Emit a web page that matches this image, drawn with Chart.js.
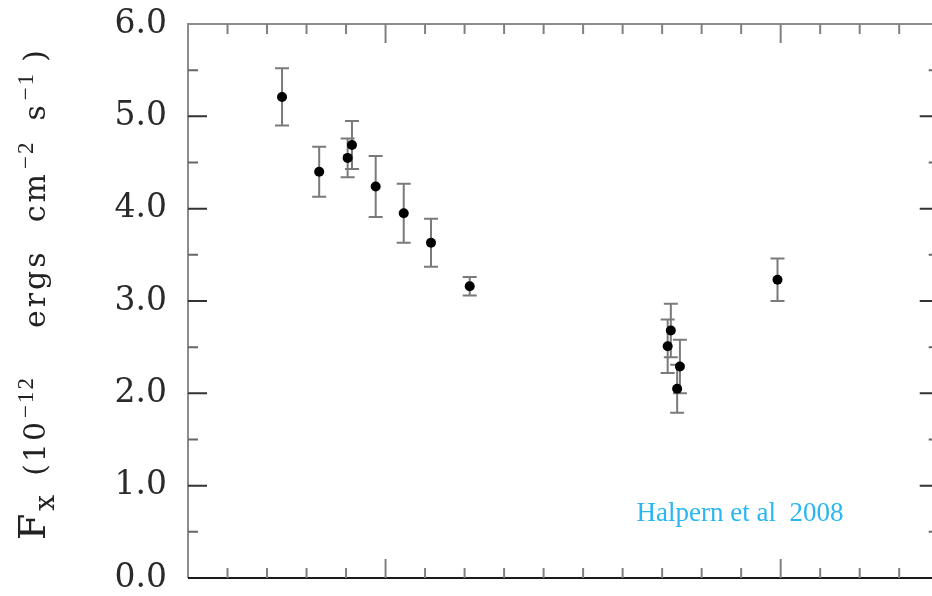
<!DOCTYPE html>
<html>
<head>
<meta charset="utf-8">
<script src="https://cdn.jsdelivr.net/npm/chart.js@4.4.1/dist/chart.umd.min.js"></script>
<style>
  html, body { margin: 0; padding: 0; background: #fff; }
  #wrap { width: 932px; height: 596px; }
</style>
</head>
<body>
<div id="wrap"><canvas id="fluxchart" width="932" height="596"></canvas></div>
<script>
// epochs (MJD), X-ray flux and 1-sigma errors
const epochs = [52738, 52832, 52904, 52915, 52975, 53046, 53115, 53213, 53714, 53722, 53745, 53738, 53992];
const fluxes = [5.21, 4.40, 4.55, 4.69, 4.24, 3.95, 3.63, 3.16, 2.51, 2.68, 2.29, 2.05, 3.23];
const errors = [0.31, 0.27, 0.21, 0.26, 0.33, 0.32, 0.26, 0.10, 0.29, 0.29, 0.29, 0.26, 0.23];

const yTicks = [0, 1, 2, 3, 4, 5, 6];
const yMinorStep = 0.5;
const xFrame = [52500, 54400];   // frame runs a little past the right edge of the picture
const xVisibleMax = 54383;
const xMinorStep = 100;
const xMajorStep = 1000;
const note = 'Halpern et al  2008';
const notePos = [53635, 0.62];

// error bars, drawn under the points
const errorBars = {
  id: 'errorBars',
  beforeDatasetsDraw(chart) {
    const {ctx, scales: {x, y}} = chart;
    ctx.save();
    ctx.strokeStyle = '#7a7a7a';
    ctx.lineWidth = 2;
    epochs.forEach((t, i) => {
      const px = x.getPixelForValue(t);
      const hi = y.getPixelForValue(fluxes[i] + errors[i]);
      const lo = y.getPixelForValue(fluxes[i] - errors[i]);
      ctx.beginPath();
      ctx.moveTo(px, hi); ctx.lineTo(px, lo);
      ctx.moveTo(px - 7, hi); ctx.lineTo(px + 7, hi);
      ctx.moveTo(px - 7, lo); ctx.lineTo(px + 7, lo);
      ctx.stroke();
    });
    ctx.restore();
  }
};

// box frame with inward ticks on all four sides
const frameTicks = {
  id: 'frameTicks',
  afterDraw(chart) {
    const {ctx, chartArea: a, scales: {x, y}} = chart;
    const left = x.getPixelForValue(xFrame[0]);
    const right = x.getPixelForValue(xFrame[1]);
    const top = a.top, bottom = a.bottom;
    ctx.save();
    ctx.lineWidth = 2;
    ctx.strokeStyle = '#8c8c8c';
    ctx.beginPath();
    ctx.moveTo(left, bottom); ctx.lineTo(left, top); ctx.lineTo(right, top); ctx.lineTo(right, bottom);
    ctx.stroke();
    ctx.strokeStyle = '#1a1a1a';
    ctx.beginPath(); ctx.moveTo(left, bottom); ctx.lineTo(right, bottom); ctx.stroke();

    const yMax = yTicks[yTicks.length - 1];
    for (let v = yTicks[0] + yMinorStep; v < yMax - 1e-6; v += yMinorStep) {
      const py = y.getPixelForValue(v);
      const major = Math.abs(v - Math.round(v)) < 1e-6;
      const len = major ? 19 : 10;
      ctx.strokeStyle = major ? '#333' : '#666';
      ctx.beginPath();
      ctx.moveTo(left, py); ctx.lineTo(left + len, py);
      ctx.moveTo(right, py); ctx.lineTo(right - len, py);
      ctx.stroke();
    }
    for (let t = xFrame[0] + xMinorStep; t < xFrame[1]; t += xMinorStep) {
      const px = x.getPixelForValue(t);
      const len = t % xMajorStep === 0 ? 19 : 10;
      ctx.strokeStyle = '#808080';
      ctx.beginPath();
      ctx.moveTo(px, bottom); ctx.lineTo(px, bottom - len);
      ctx.moveTo(px, top); ctx.lineTo(px, top + len);
      ctx.stroke();
    }
    ctx.restore();
  }
};

// rotated y title with sub/superscripts, plus the citation
const titleParts = [
  {t: 'F', font: '38px "DejaVu Serif"', dy: 0, gap: 0, ls: 3},
  {t: 'x', font: '28px "DejaVu Serif"', dy: 9, gap: 0, ls: 3},
  {t: '(10', font: '30px "DejaVu Serif"', dy: 0, gap: 16, ls: 2},
  {t: '\u221212', font: '23px "Liberation Serif"', dy: -12, gap: 2, ls: 2},
  {t: 'ergs', font: '30px "DejaVu Serif"', dy: 0, gap: 48, ls: 3},
  {t: 'cm', font: '30px "DejaVu Serif"', dy: 0, gap: 27, ls: 3},
  {t: '\u22122', font: '23px "Liberation Serif"', dy: -12, gap: 2, ls: 2},
  {t: 's', font: '30px "DejaVu Serif"', dy: 0, gap: 20, ls: 3},
  {t: '\u22121', font: '23px "Liberation Serif"', dy: -12, gap: 2, ls: 2},
  {t: ')', font: '30px "DejaVu Serif"', dy: 0, gap: 10, ls: 0}
];

const labels = {
  id: 'labels',
  afterDraw(chart) {
    const {ctx, scales: {x, y}} = chart;
    ctx.save();
    ctx.translate(45, 540);
    ctx.rotate(-Math.PI / 2);
    ctx.fillStyle = '#222';
    ctx.textBaseline = 'alphabetic';
    let cx = 0;
    titleParts.forEach(p => {
      ctx.font = p.font;
      ctx.letterSpacing = p.ls + 'px';
      cx += p.gap;
      ctx.fillText(p.t, cx, p.dy);
      cx += ctx.measureText(p.t).width;
    });
    ctx.restore();

    ctx.save();
    ctx.font = '27px "Liberation Serif"';
    ctx.fillStyle = '#29b6f2';
    ctx.textBaseline = 'alphabetic';
    ctx.fillText(note, x.getPixelForValue(notePos[0]), y.getPixelForValue(notePos[1]));
    ctx.restore();
  }
};

new Chart(document.getElementById('fluxchart'), {
  type: 'scatter',
  data: {
    datasets: [{
      data: epochs.map((t, i) => ({x: t, y: fluxes[i]})),
      pointRadius: 5,
      pointHoverRadius: 5,
      backgroundColor: '#000',
      borderWidth: 0
    }]
  },
  options: {
    responsive: false,
    animation: false,
    devicePixelRatio: 1,
    layout: { autoPadding: false, padding: { top: 24, bottom: 18, left: 0, right: 0 } },
    plugins: { legend: { display: false }, tooltip: { enabled: false } },
    scales: {
      x: { type: 'linear', display: false, min: xFrame[0], max: xVisibleMax },
      y: {
        min: yTicks[0],
        max: yTicks[yTicks.length - 1],
        // tick marks are drawn by frameTicks; tickLength only sets the label gap
        grid: { display: false, drawTicks: true, tickLength: 21 },
        border: { display: false },
        ticks: {
          stepSize: 1,
          padding: 0,
          color: '#2a2a2a',
          font: { family: 'DejaVu Serif', size: 33, lineHeight: 1 },
          callback: v => v.toFixed(1)
        },
        afterFit(s) { s.width = 188; }
      }
    }
  },
  plugins: [errorBars, frameTicks, labels]
});
</script>
</body>
</html>
